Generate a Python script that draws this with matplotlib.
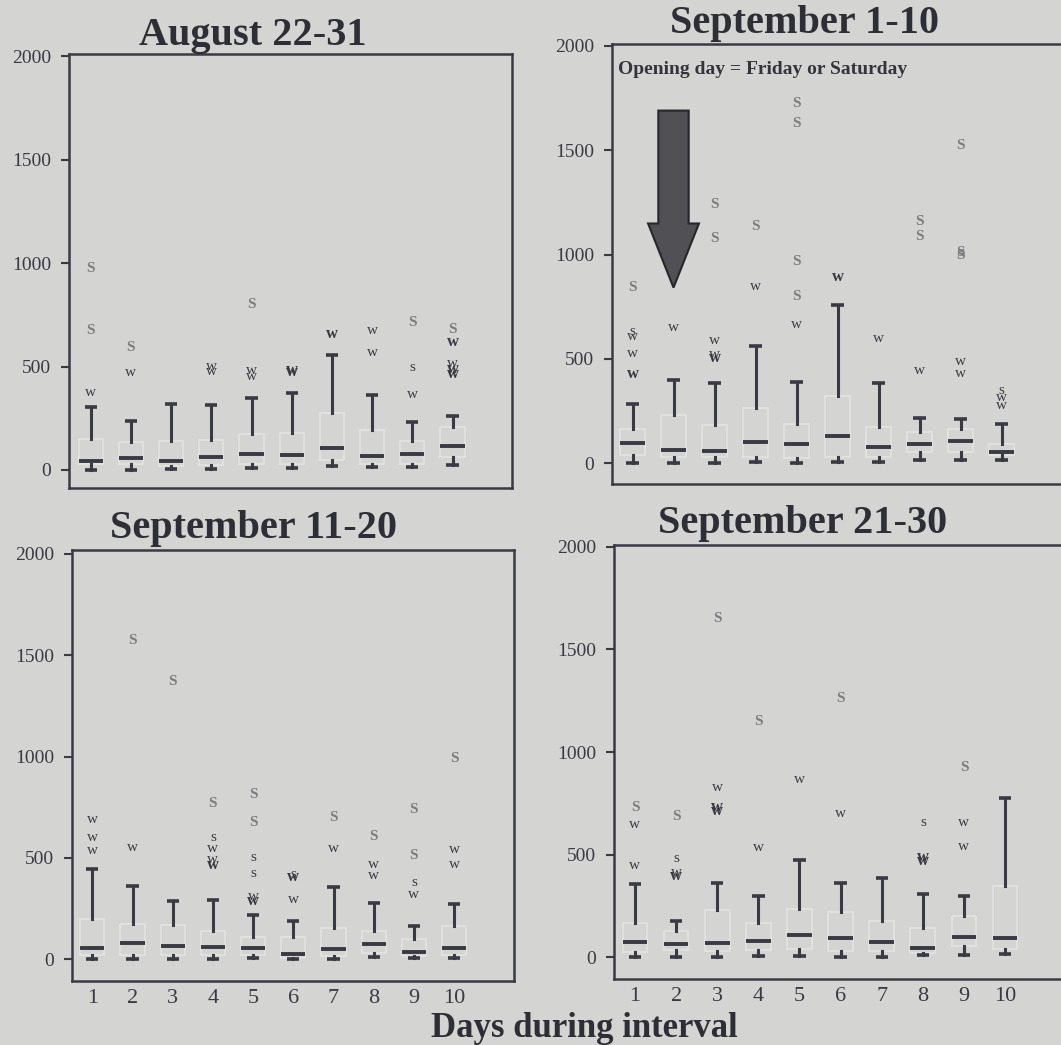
import matplotlib
matplotlib.use("Agg")
import matplotlib.pyplot as plt

# ---- data (values per day 1..10) ----
days = [1, 2, 3, 4, 5, 6, 7, 8, 9, 10]
y_ticks = [0, 500, 1000, 1500, 2000]

titles = ["August 22-31", "September 1-10", "September 11-20", "September 21-30"]

aug_med = [45, 56, 45, 64, 78, 74, 105, 68, 77, 114]
aug_q1 = [28, 30, 18, 25, 28, 28, 48, 30, 30, 64]
aug_q3 = [152, 137, 141, 145, 174, 177, 273, 193, 141, 210]
aug_lo = [0, 0, 3, 5, 8, 8, 19, 13, 13, 24]
aug_hi = [302, 238, 318, 313, 350, 370, 555, 362, 233, 262]
aug_out = [
    [(373, "w"), (675, "S"), (973, "S")],
    [(470, "w"), (592, "S")],
    [],
    [(474, "w"), (498, "w")],
    [(450, "w"), (480, "w"), (800, "S")],
    [(472, "W"), (485, "W")],
    [(659, "W")],
    [(568, "w"), (672, "w")],
    [(365, "w"), (494, "s"), (711, "S")],
    [(466, "W"), (490, "W"), (516, "w"), (619, "W"), (679, "S")],
]

sep1_med = [96, 63, 60, 103, 92, 130, 79, 95, 105, 53]
sep1_q1 = [38, 29, 29, 28, 25, 30, 28, 54, 54, 40]
sep1_q3 = [163, 231, 182, 263, 190, 322, 173, 150, 166, 94]
sep1_lo = [0, 0, 3, 5, 3, 8, 6, 15, 15, 15]
sep1_hi = [284, 398, 383, 563, 391, 757, 383, 219, 212, 190]
sep1_out = [
    [(427, "W"), (526, "w"), (606, "w"), (634, "s"), (842, "S")],
    [(650, "w")],
    [(505, "W"), (522, "w"), (587, "w"), (1076, "S"), (1240, "S")],
    [(845, "w"), (1135, "S")],
    [(666, "w"), (800, "S"), (969, "S"), (1629, "S"), (1722, "S")],
    [(893, "W")],
    [(598, "w")],
    [(443, "w"), (1087, "S"), (1160, "S")],
    [(430, "w"), (486, "w"), (996, "S"), (1010, "S"), (1522, "S")],
    [(277, "w"), (317, "w"), (349, "s")],
]

sep11_med = [58, 80, 64, 62, 57, 27, 51, 75, 38, 58]
sep11_q1 = [22, 22, 20, 20, 22, 8, 18, 30, 15, 22]
sep11_q3 = [198, 172, 170, 142, 110, 112, 154, 140, 98, 166]
sep11_lo = [2, 2, 2, 2, 4, 2, 2, 12, 4, 4]
sep11_hi = [446, 363, 286, 291, 220, 187, 355, 278, 166, 274]
sep11_out = [
    [(538, "w"), (600, "w"), (689, "w")],
    [(552, "w"), (1572, "S")],
    [(1371, "S")],
    [(466, "W"), (492, "w"), (547, "w"), (603, "s"), (771, "S")],
    [(286, "W"), (312, "w"), (423, "s"), (504, "s"), (675, "S"), (812, "S")],
    [(295, "w"), (406, "W"), (418, "s")],
    [(548, "w"), (698, "S")],
    [(411, "w"), (470, "w"), (607, "S")],
    [(320, "w"), (380, "s"), (514, "S"), (737, "S")],
    [(470, "w"), (543, "w"), (989, "S")],
]

sep21_med = [75, 64, 70, 78, 108, 95, 73, 47, 101, 95]
sep21_q1 = [28, 35, 30, 35, 39, 30, 30, 22, 55, 40]
sep21_q3 = [168, 130, 230, 168, 236, 222, 177, 145, 200, 348]
sep21_lo = [0, 0, 2, 5, 5, 3, 3, 10, 10, 17]
sep21_hi = [358, 176, 362, 298, 475, 364, 389, 309, 301, 778]
sep21_out = [
    [(450, "w"), (648, "w"), (732, "S")],
    [(399, "W"), (416, "w"), (484, "s"), (687, "S")],
    [(715, "W"), (732, "W"), (829, "w"), (1650, "S")],
    [(534, "w"), (1150, "S")],
    [(867, "w")],
    [(703, "w"), (1261, "S")],
    [],
    [(470, "W"), (487, "W"), (656, "s")],
    [(538, "w"), (659, "w"), (923, "S")],
    [],
]

# opening-day arrow in the Sep 1-10 panel (day, top value, tip value, head start)
arrow_day = 2
arrow_top = 1690
arrow_tip = 842
arrow_head = 1149

# ---- style ----
W, H = 1061, 1045
BG = "#d4d4d2"
DARK = "#3a3a44"
GRAY_S = "#7c7c80"
BOXC = "#e1e1df"
SERIF = ["Liberation Serif", "DejaVu Serif"]

plt.rcParams["font.family"] = SERIF

fig = plt.figure(figsize=(W / 100, H / 100), dpi=100, facecolor=BG)


def px_axes(left, top, right, bottom):
    return fig.add_axes([left / W, 1 - bottom / H, (right - left) / W, (bottom - top) / H])


# axes boxes in pixels (left, top, right, bottom) and their limits
panels = [
    dict(box=(69, 54, 512, 488), ylim=(-87, 2010), xlim=(0.46, 11.48), right=True, xlab=False,
         data=(aug_med, aug_q1, aug_q3, aug_lo, aug_hi, aug_out)),
    dict(box=(612, 44, 1061, 484), ylim=(-99, 2009), xlim=(0.5, 11.45), right=False, xlab=False,
         data=(sep1_med, sep1_q1, sep1_q3, sep1_lo, sep1_hi, sep1_out)),
    dict(box=(72, 550, 514, 981), ylim=(-107, 2019), xlim=(0.495, 11.49), right=True, xlab=True,
         data=(sep11_med, sep11_q1, sep11_q3, sep11_lo, sep11_hi, sep11_out)),
    dict(box=(614, 545, 1061, 979), ylim=(-105, 2009), xlim=(0.49, 11.36), right=False, xlab=True,
         data=(sep21_med, sep21_q1, sep21_q3, sep21_lo, sep21_hi, sep21_out)),
]

axes = []
for p in panels:
    ax = px_axes(*p["box"])
    ax.set_facecolor(BG)
    med, q1, q3, lo, hi, out = p["data"]
    stats = []
    for i in range(len(days)):
        stats.append(dict(med=med[i], q1=q1[i], q3=q3[i], whislo=lo[i], whishi=hi[i], fliers=[]))
    ax.bxp(stats, positions=days, widths=0.6, capwidths=0.3, showfliers=False,
           boxprops=dict(color=BOXC, linewidth=1.4),
           medianprops=dict(color=DARK, linewidth=2.8, solid_capstyle="butt"),
           whiskerprops=dict(color=DARK, linewidth=2.2),
           capprops=dict(color=DARK, linewidth=2.6, solid_capstyle="butt"),
           manage_ticks=False)
    # outliers drawn as letters (w / s)
    for d, pts in zip(days, out):
        for val, letter in pts:
            if letter == "S":
                ax.text(d, val, "S", color=GRAY_S, fontsize=11, fontweight="bold",
                        ha="center", va="center")
            elif letter == "W":
                ax.text(d, val, "w", color=DARK, fontsize=12, fontweight="bold",
                        ha="center", va="center")
            else:
                ax.text(d, val, letter, color=DARK, fontsize=11,
                        ha="center", va="center")

    ax.set_xlim(*p["xlim"])
    ax.set_ylim(*p["ylim"])
    ax.set_yticks(y_ticks)
    ax.set_yticklabels([str(t) for t in y_ticks], fontsize=14, color=DARK)
    ax.tick_params(axis="y", direction="out", length=6, width=1.5, color=DARK, pad=7)
    ax.set_xticks(days)
    if p["xlab"]:
        ax.set_xticklabels([str(d) for d in days], fontsize=16, color=DARK)
    else:
        ax.set_xticklabels([])
    ax.tick_params(axis="x", length=0, pad=6)
    for side in ["left", "top", "bottom", "right"]:
        ax.spines[side].set_color(DARK)
        ax.spines[side].set_linewidth(1.8)
    ax.spines["right"].set_visible(p["right"])
    axes.append(ax)

# panel titles (pixel centre x, baseline y)
title_pos = [(253, 45), (804, 33), (254, 538), (803, 533)]
for t, (x, y) in zip(titles, title_pos):
    fig.text(x / W, 1 - y / H, t, ha="center", va="baseline", fontsize=29,
             fontweight="bold", color="#2e2e36")

fig.text(584 / W, 1 - 1037 / H, "Days during interval", ha="center", va="baseline",
         fontsize=25, fontweight="bold", color="#2e2e36")

# opening day note + arrow
ax2 = axes[1]
fig.text(618 / W, 1 - 74 / H, "Opening day = Friday or Saturday", ha="left", va="baseline",
         fontsize=14, fontweight="bold", color="#34343c")
ax2.arrow(arrow_day, arrow_top, 0, arrow_tip - arrow_top, width=0.74, head_width=1.24,
          head_length=arrow_head - arrow_tip, length_includes_head=True,
          facecolor="#505055", edgecolor="#26262c", linewidth=1.5, zorder=5)

fig.savefig("out.png", dpi=100, facecolor=BG)
